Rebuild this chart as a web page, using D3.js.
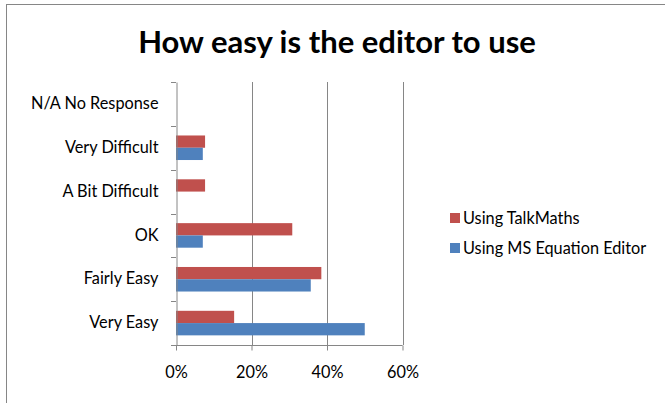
<!DOCTYPE html>
<html>
<head>
<meta charset="utf-8">
<script src="https://cdn.jsdelivr.net/npm/d3@7"></script>
<style>
  body { margin: 0; background: #fff; }
  text { font-family: Lato, "Open Sans", sans-serif; fill: #000; }
</style>
</head>
<body>
<div id="chart"></div>
<script>
// chart data
var categories = ["N/A No Response", "Very Difficult", "A Bit Difficult", "OK", "Fairly Easy", "Very Easy"];
var seriesNames = ["Using TalkMaths", "Using MS Equation Editor"];
var talkMaths = [0, 0.077, 0.077, 0.308, 0.385, 0.154];
var msEditor = [0, 0.071, 0, 0.071, 0.357, 0.50];
var xTicks = [0, 0.2, 0.4, 0.6];

var colors = ["#C0504D", "#4F81BD"];
var fs = "16.3px";

var W = 665, H = 403;
var svg = d3.select("#chart").append("svg")
    .attr("width", W)
    .attr("height", H);

// outer chart frame (cropped on right / bottom)
svg.append("rect")
    .attr("x", 6.5).attr("y", 4.5)
    .attr("width", W + 10).attr("height", H + 10)
    .attr("fill", "#fff")
    .attr("stroke", "#868686");

svg.append("text")
    .attr("x", 337).attr("y", 53)
    .attr("text-anchor", "middle")
    .style("font-size", "31px")
    .style("font-weight", "bold")
    .text("How easy is the editor to use");

var plot = {left: 176, right: 402.5, top: 82, bottom: 345};

var x = d3.scaleLinear().domain([0, 0.6]).range([plot.left, plot.right]);
var y = d3.scaleBand().domain(categories).range([plot.top, plot.bottom]).paddingInner(0.44).paddingOuter(0.22);
var sub = d3.scaleBand().domain(seriesNames).range([0, y.bandwidth()]);

var g = svg.append("g");

// vertical gridlines
g.selectAll(".grid")
    .data(xTicks.slice(1))
    .enter().append("line")
    .attr("x1", function(d) { return Math.round(x(d)) + 0.5; })
    .attr("x2", function(d) { return Math.round(x(d)) + 0.5; })
    .attr("y1", plot.top).attr("y2", plot.bottom)
    .attr("stroke", "#868686");

var rows = categories.map(function(c, i) {
  return {cat: c, vals: [talkMaths[i], msEditor[i]]};
});

var grp = g.selectAll(".cat")
    .data(rows)
    .enter().append("g")
    .attr("transform", function(d) { return "translate(0," + y(d.cat) + ")"; });

grp.selectAll("rect")
    .data(function(d) { return d.vals.map(function(v, j) { return {name: seriesNames[j], v: v, j: j}; }); })
    .enter().filter(function(d) { return d.v > 0; }).append("rect")
    .attr("x", x(0))
    .attr("y", function(d) { return sub(d.name); })
    .attr("width", function(d) { return x(d.v) - x(0); })
    .attr("height", sub.bandwidth())
    .attr("fill", function(d) { return colors[d.j]; });

// y axis
var yAxis = d3.axisLeft(y).tickSize(0).tickPadding(18);
var ya = g.append("g")
    .attr("transform", "translate(" + (Math.round(plot.left) + 0.5) + ",0)")
    .call(yAxis);
ya.select(".domain").attr("stroke", "#868686");
ya.selectAll("text").style("font-size", fs).style("font-family", "Lato, sans-serif").attr("fill", "#000");

// y axis tick marks at band boundaries
var bounds = d3.range(categories.length + 1).map(function(i) { return plot.top + i * y.step(); });
g.selectAll(".ytick")
    .data(bounds)
    .enter().append("line")
    .attr("x1", plot.left - 5).attr("x2", plot.left)
    .attr("y1", function(d) { return Math.round(d) + 0.5; })
    .attr("y2", function(d) { return Math.round(d) + 0.5; })
    .attr("stroke", "#868686");

// x axis
var xAxis = d3.axisBottom(x).tickValues(xTicks).tickFormat(d3.format(".0%")).tickSize(5).tickPadding(16);
var xa = g.append("g")
    .attr("transform", "translate(0," + (Math.round(plot.bottom) + 0.5) + ")")
    .call(xAxis);
xa.select(".domain").attr("stroke", "#868686").attr("d", "M" + plot.left + ",0H" + plot.right);
xa.selectAll(".tick line").attr("stroke", "#868686");
xa.selectAll("text").style("font-size", fs).style("font-family", "Lato, sans-serif").attr("fill", "#000");

// legend
var legend = svg.append("g").attr("transform", "translate(450,0)");
var legY = [218, 248];
var li = legend.selectAll(".leg")
    .data(seriesNames)
    .enter().append("g")
    .attr("transform", function(d, i) { return "translate(0," + legY[i] + ")"; });
li.append("rect")
    .attr("x", 0).attr("y", -5)
    .attr("width", 10).attr("height", 10)
    .attr("fill", function(d, i) { return colors[i]; });
li.append("text")
    .attr("x", 13).attr("y", 5.5)
    .style("font-size", fs)
    .text(function(d) { return d; });
</script>
</body>
</html>
